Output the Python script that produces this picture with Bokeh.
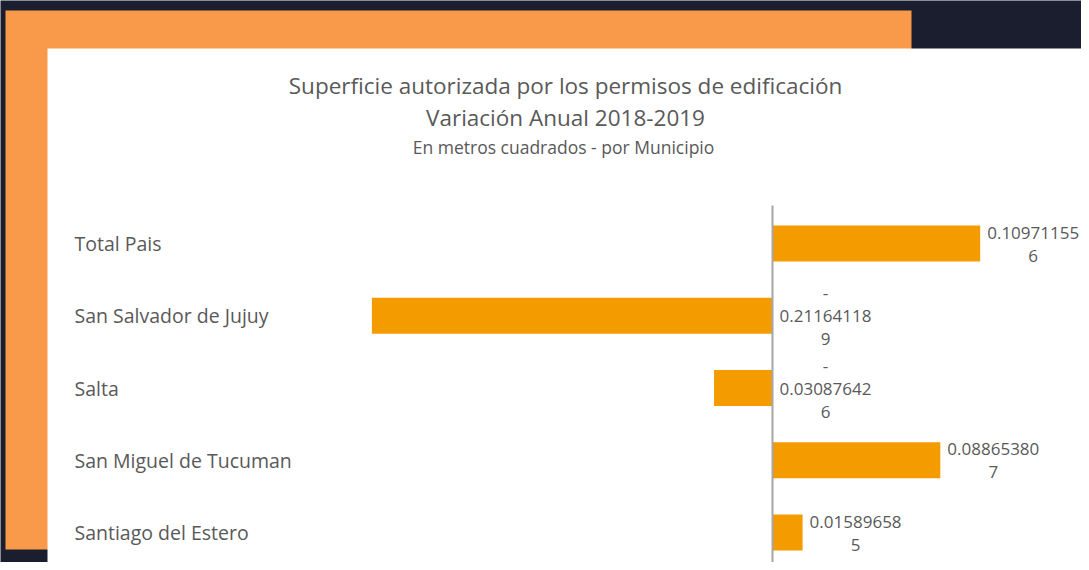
from bokeh.plotting import figure
from bokeh.models import Range1d, ColumnDataSource
from bokeh.core.properties import value
from bokeh.embed import file_html
from bokeh.resources import INLINE

# ---- data ----
categories = ["Total Pais", "San Salvador de Jujuy", "Salta",
              "San Miguel de Tucuman", "Santiago del Estero"]
values = [0.109711556, -0.211641189, -0.030876426, 0.088653807, 0.015896585]
title_lines = ["Superficie autorizada por los permisos de edificación",
               "Variación Anual 2018-2019",
               "En metros cuadrados - por Municipio"]

def wrap_label(v):
    s = f"{abs(v):.9f}"
    body = s[:10] + "\n" + s[10:]
    return ("-\n" + body) if v < 0 else body

labels = [wrap_label(v) for v in values]
positions = list(range(len(categories)))

W, H = 1081, 562
FONT = "Open Sans"
DARK = "#1b1e2e"
ORANGE_BG = "#f89a4a"
BAR = "#f49b00"
TXT = "#595959"

p = figure(width=W, height=H, output_backend="svg", toolbar_location=None,
           x_range=Range1d(0, W), y_range=Range1d(H, 0),
           min_border=0, background_fill_color=DARK, border_fill_color=DARK,
           outline_line_color=None)
p.axis.visible = False
p.grid.visible = False

# scale for data
px_per_unit = 1893.0
zero_x = 772.0
row0_y = 243.0
row_step = 72.25
p.extra_x_ranges = {"val": Range1d(-zero_x / px_per_unit, (W - zero_x) / px_per_unit)}
p.extra_y_ranges = {"cat": Range1d((H - row0_y) / row_step, -row0_y / row_step)}

# decorative panels
p.quad(left=[5], right=[911], top=[10], bottom=[549], fill_color=ORANGE_BG, line_color=None)
p.quad(left=[47], right=[W + 5], top=[48], bottom=[H + 5], fill_color="white", line_color=None)

# titles
p.text(x=[565], y=[85], text=[title_lines[0]], text_font=value(FONT), text_font_size="22.5px",
       text_color=TXT, text_align="center", text_baseline="middle")
p.text(x=[565], y=[117], text=[title_lines[1]], text_font=value(FONT), text_font_size="22.5px",
       text_color=TXT, text_align="center", text_baseline="middle")
p.text(x=[563], y=[146], text=[title_lines[2]], text_font=value(FONT), text_font_size="17.5px",
       text_color=TXT, text_align="center", text_baseline="middle")

src = ColumnDataSource(dict(cat=categories, pos=positions, val=values,
                            lab=labels, lx=[max(v, 0) for v in values],
                            zero=[0] * len(values)))

# bars
p.hbar(y="pos", left="zero", right="val", height=0.5, source=src,
       fill_color=BAR, line_color=None, x_range_name="val", y_range_name="cat")

# zero axis line
p.segment(x0=[0], x1=[0], y0=[positions[0] - 0.526], y1=[positions[-1] + 0.6],
          line_color="#a6a6a6", line_width=2, x_range_name="val", y_range_name="cat")

# category labels
p.text(x=74, y="pos", text="cat", source=src, text_font=value(FONT), text_font_size="19.5px",
       text_color=TXT, text_align="left", text_baseline="middle", y_range_name="cat")

# value labels
p.text(x="lx", y="pos", text="lab", source=src, x_offset=53, text_font=value(FONT),
       text_font_size="17px", text_color=TXT, text_align="center", text_baseline="middle",
       text_line_height=1.0, x_range_name="val", y_range_name="cat")

open("out.html", "w").write(file_html(p, INLINE))
